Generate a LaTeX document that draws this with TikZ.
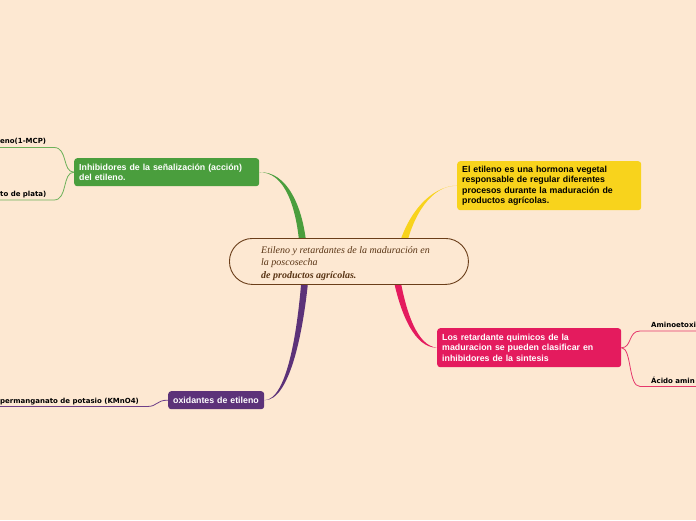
\documentclass[tikz,border=0pt]{standalone}
\usepackage{fontspec}
\setmainfont{Liberation Serif}
\setsansfont{Liberation Sans}
\newfontfamily\subfont{DejaVu Sans}
\usetikzlibrary{calc}
\definecolor{bg}{HTML}{FDE8D2}
\definecolor{cbrown}{HTML}{6B3E1A}
\definecolor{ctext}{HTML}{5A3515}
\definecolor{cgreen}{HTML}{4A9E3D}
\definecolor{lgreen}{HTML}{6DB15A}
\definecolor{cyellow}{HTML}{F8D31C}
\definecolor{cmag}{HTML}{E41B5E}
\definecolor{lmag}{HTML}{E5386C}
\definecolor{cpurp}{HTML}{5C3279}
\definecolor{lpurp}{HTML}{6E4089}
\tikzset{
  topic/.style={rectangle, rounded corners=3pt, anchor=north west, inner xsep=5pt, inner ysep=0pt, align=left, font=\sffamily\bfseries\fontsize{8.8}{10.6}\selectfont},
  sub/.style={inner sep=0pt, anchor=base west, font=\subfont\bfseries\fontsize{7}{8}\selectfont, text=black},
  thin/.style={line width=0.8pt}
}
\begin{document}
\begin{tikzpicture}[x=1pt,y=-1pt]
\fill[bg] (0,0) rectangle (696,520);
\useasboundingbox (0,0) rectangle (696,520);

% topic nodes
\node[topic, fill=cgreen, text=white, text width=175pt, minimum height=28pt] (g) at (74,158)
  {Inhibidores de la señalización (acción)\\del etileno.};
\node[topic, fill=cyellow, text=black, text width=174pt, minimum height=49pt] (y) at (457,161)
  {El etileno es una hormona vegetal\\responsable de regular diferentes\\procesos durante la maduración de\\productos agrícolas.};
\node[topic, fill=cmag, text=white, text width=174pt, minimum height=39pt] (m) at (437,328)
  {Los retardante quimicos de la\\maduracion se pueden clasificar en\\inhibidores de la sintesis};
\node[topic, fill=cpurp, text=white, text width=86pt, minimum height=18pt] (p) at (168,391)
  {oxidantes de etileno};

% main tapered branches
\fill[cgreen] (g.east) .. controls (284,172) and (297,205) .. (300,252) -- (307,252) .. controls (304,205) and (286,171) .. (g.east) -- cycle;
\fill[cyellow] (y.west) .. controls (430,186) and (406,215) .. (397,252) -- (405,252) .. controls (412,215) and (432,185) .. (y.west) -- cycle;
\fill[cmag] (m.west) .. controls (415,348) and (400,315) .. (392,272) -- (399,272) .. controls (406,315) and (418,346) .. (m.west) -- cycle;
\fill[cpurp] (p.east) .. controls (287,400) and (298,330) .. (302,272) -- (309,272) .. controls (304,330) and (290,401) .. (p.east) -- cycle;

% central topic
\node[draw=cbrown, fill=bg, line width=0.9pt, rectangle, rounded corners=23pt, minimum width=239pt, minimum height=46pt, anchor=north west, inner sep=0pt] (c) at (229,238) {};
\node[anchor=north west, inner sep=0pt, align=left, text=ctext, font=\itshape\fontsize{10}{12.5}\selectfont] (ct) at (261,246)
  {Etileno y retardantes de la maduración en\\la poscosecha\\\textbf{de productos agrícolas.}};

% subtopics
\node[sub] (s1) at (0,143.5) {eno(1-MCP)};
\node[sub] (s2) at (0,196) {to de plata)};
\node[sub] (s3) at (0,403.5) {permanganato de potasio (KMnO4)};
\node[sub] (s4) at (651,327) {Aminoetoxi};
\node[sub] (s5) at (651,383) {Ácido amin};

\coordinate (a1) at (54,147.5); \coordinate (b1) at (0,147.5);
\coordinate (a2) at (54,200);   \coordinate (b2) at (0,200);
\coordinate (a3) at (147,406.5); \coordinate (b3) at (0,406.5);
\coordinate (a4) at (640,331);  \coordinate (b4) at (696,331);
\coordinate (a5) at (640,386.5); \coordinate (b5) at (696,386.5);

\draw[lgreen, thin] (g.west) .. controls (62,172) and (68,147.5) .. (a1) -- (b1);
\draw[lgreen, thin] (g.west) .. controls (62,172) and (68,200) .. (a2) -- (b2);
\draw[lpurp, thin] (p.west) .. controls (156,400) and (158,406.5) .. (a3) -- (b3);
\draw[lmag, thin] (m.east) .. controls (632,348) and (628,331) .. (a4) -- (b4);
\draw[lmag, thin] (m.east) .. controls (632,348) and (628,386.5) .. (a5) -- (b5);
\end{tikzpicture}
\end{document}
